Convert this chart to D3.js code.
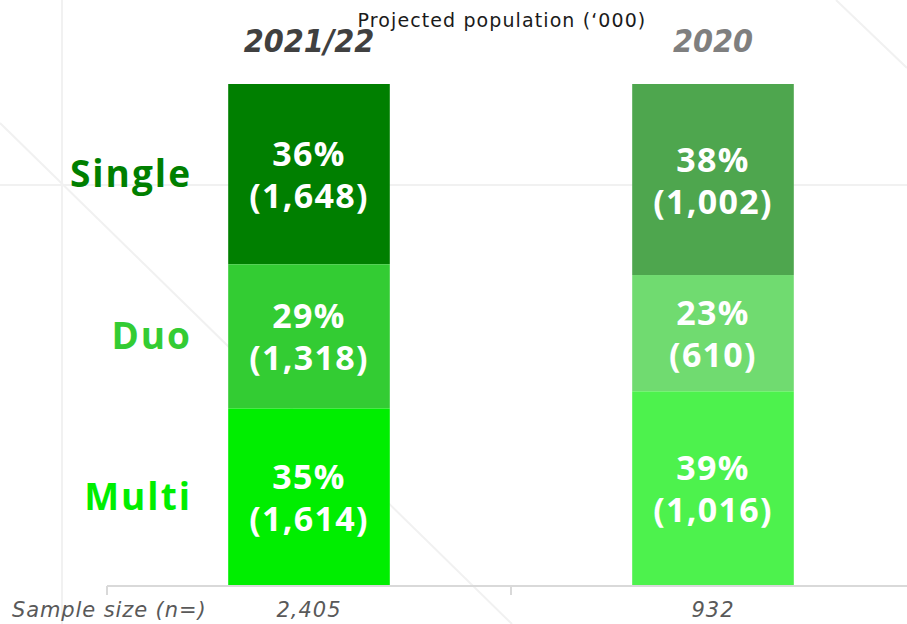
<!DOCTYPE html>
<html><head><meta charset="utf-8">
<script src="https://cdn.jsdelivr.net/npm/d3@7"></script>
<style>
html,body{margin:0;padding:0;background:#fff;}
svg{display:block;}
</style></head>
<body>
<svg id="chart" width="907" height="624"></svg>
<script>
const periods = ["2021/22", "2020"];
const segments = ["Single", "Duo", "Multi"];
const population2021 = [1648, 1318, 1614];
const population2020 = [1002, 610, 1016];
const percentLabels2021 = ["36%", "29%", "35%"];
const percentLabels2020 = ["38%", "23%", "39%"];
const sampleSizes = ["2,405", "932"];
const title = "Projected population (\u2018000)";

const colors2021 = ["#007f00", "#33cc33", "#00ee00"];
const colors2020 = ["#4ea64e", "#70db70", "#4df24d"];
const labelColors = ["#007f00", "#33cc33", "#00ee00"];
const periodColors = ["#404040", "#7f7f7f"];

const svg = d3.select("#chart");
const W = 907, H = 624;
const boldFont = "'Open Sans', 'DejaVu Sans', sans-serif";
const wideFont = "'DejaVu Sans', 'Open Sans', sans-serif";

// faint background decoration
const bg = svg.append("g").attr("stroke", "#f1f1f1").attr("stroke-width", 2).attr("fill", "none");
bg.append("line").attr("x1", 62).attr("x2", 62).attr("y1", 0).attr("y2", H);
bg.append("line").attr("x1", 0).attr("x2", W).attr("y1", 185).attr("y2", 185);
bg.append("line").attr("x1", 0).attr("x2", 512).attr("y1", 123).attr("y2", 624);
bg.append("line").attr("x1", 836).attr("x2", 907).attr("y1", 0).attr("y2", 68);

const x = d3.scaleBand().domain(periods).range([107, 915]).paddingInner(0.6).paddingOuter(0.3);
// share measured from the top of the bar downward (Single on top)
const y = d3.scaleLinear().domain([0, 1]).range([84, 585]);

const data = [
  {period: periods[0], values: population2021, pct: percentLabels2021, colors: colors2021},
  {period: periods[1], values: population2020, pct: percentLabels2020, colors: colors2020}
];

data.forEach(d => {
  const total = d3.sum(d.values);
  let cum = 0;
  d.stack = d.values.map((v, i) => {
    const s = {y0: cum / total, y1: (cum + v) / total, value: v, pct: d.pct[i], color: d.colors[i], seg: segments[i]};
    cum += v;
    return s;
  });
});

const groups = svg.selectAll("g.bar").data(data).enter().append("g").attr("class", "bar");

groups.selectAll("rect").data(d => d.stack).enter().append("rect")
  .attr("x", function() { return x(d3.select(this.parentNode).datum().period); })
  .attr("width", x.bandwidth())
  .attr("y", s => y(s.y0))
  .attr("height", s => y(s.y1) - y(s.y0))
  .attr("fill", s => s.color);

groups.each(function(d) {
  const g = d3.select(this);
  const cx = x(d.period) + x.bandwidth() / 2;
  d.stack.forEach(s => {
    const cy = (y(s.y0) + y(s.y1)) / 2;
    const t = g.append("text")
      .attr("text-anchor", "middle")
      .attr("fill", "#ffffff")
      .attr("font-family", boldFont)
      .attr("font-weight", 700)
      .attr("font-size", 34)
      .attr("letter-spacing", 1.3);
    t.append("tspan").attr("x", cx).attr("y", cy - 8).text(s.pct);
    t.append("tspan").attr("x", cx).attr("y", cy + 34).text("(" + d3.format(",")(s.value) + ")");
  });
});

// segment labels at left (aligned with first bar's segments)
svg.append("g").selectAll("text").data(data[0].stack).enter().append("text")
  .attr("x", 192)
  .attr("y", s => (y(s.y0) + y(s.y1)) / 2 + 13)
  .attr("text-anchor", "end")
  .attr("fill", (s, i) => labelColors[i])
  .attr("font-family", boldFont)
  .attr("font-weight", 700)
  .attr("font-size", 37)
  .attr("letter-spacing", 2)
  .text(s => s.seg);

// period headers
svg.append("g").selectAll("text").data(periods).enter().append("text")
  .attr("x", p => x(p) + x.bandwidth() / 2)
  .attr("y", 52)
  .attr("text-anchor", "middle")
  .attr("fill", (p, i) => periodColors[i])
  .attr("font-family", "'Liberation Sans Narrow', 'DejaVu Sans Condensed', sans-serif")
  .attr("font-style", "italic")
  .attr("font-weight", 700)
  .attr("font-size", 32)
  .text(p => p);

// title
svg.append("text")
  .attr("x", 502).attr("y", 27)
  .attr("text-anchor", "middle")
  .attr("fill", "#1a1a1a")
  .attr("font-family", wideFont)
  .attr("font-size", 19)
  .attr("letter-spacing", 1.1)
  .text(title);

// axis
const axis = svg.append("g").attr("stroke", "#d9d9d9").attr("stroke-width", 2);
axis.append("line").attr("x1", 107).attr("x2", W).attr("y1", 586).attr("y2", 586);
const boundaries = [x.range()[0], x.range()[0] + x.step(), x.range()[0] + 2 * x.step()];
axis.selectAll("line.tick").data(boundaries).enter().append("line").attr("class", "tick")
  .attr("x1", b => b).attr("x2", b => b).attr("y1", 586).attr("y2", 595);

// sample sizes
svg.append("text")
  .attr("x", 12).attr("y", 617)
  .attr("fill", "#595959")
  .attr("font-family", wideFont)
  .attr("font-style", "italic")
  .attr("font-size", 21)
  .attr("letter-spacing", 0.9)
  .text("Sample size (n=)");
svg.append("g").selectAll("text").data(periods).enter().append("text")
  .attr("x", p => x(p) + x.bandwidth() / 2)
  .attr("y", 617)
  .attr("text-anchor", "middle")
  .attr("fill", "#595959")
  .attr("font-family", wideFont)
  .attr("font-style", "italic")
  .attr("font-size", 21)
  .attr("letter-spacing", 1)
  .text((p, i) => sampleSizes[i]);
</script>
</body></html>
